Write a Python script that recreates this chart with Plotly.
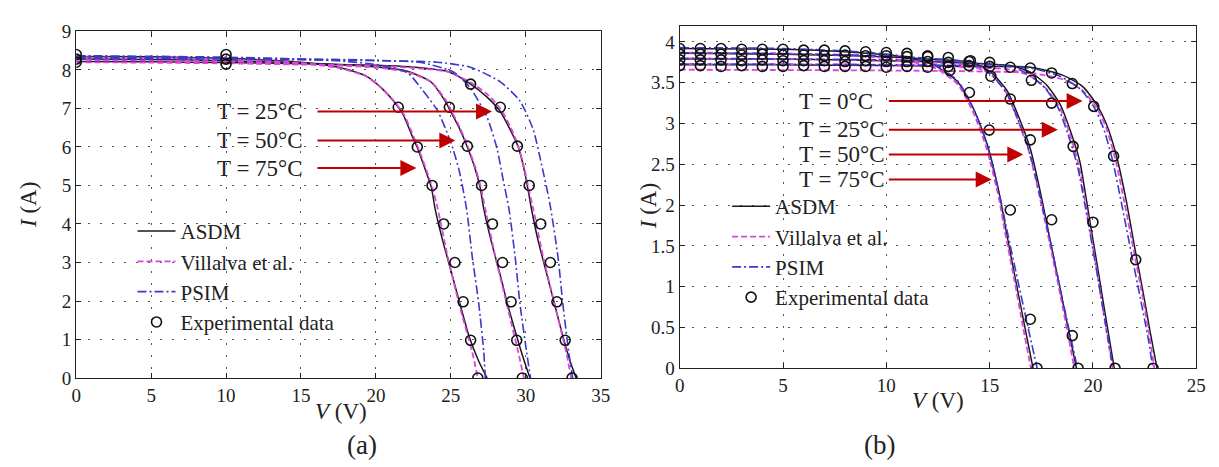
import plotly.graph_objects as go

FONT = "Liberation Serif"

# ---------------- panel (a) data: V (V), I (A) ----------------
a_asdm_25_v = [0, 5, 10, 15, 20, 22.2, 24.8, 26.3, 27.4, 28.3, 28.96, 29.5, 29.9, 30.15, 30.4, 30.83, 31.38, 31.93, 32.48, 32.95, 33.36]
a_asdm_25_i = [8.22, 8.21, 8.19, 8.16, 8.12, 8.08, 7.96, 7.64, 7.3, 6.92, 6.45, 6.0, 5.4, 4.9, 4.35, 3.56, 2.73, 1.91, 1.08, 0.45, 0]
a_asdm_50_v = [0, 5, 10, 15, 18, 20, 22.15, 23.7, 24.57, 24.95, 25.55, 26.1, 26.6, 26.95, 27.2, 27.69, 28.26, 28.79, 29.4, 29.85, 30.28]
a_asdm_50_i = [8.28, 8.27, 8.24, 8.18, 8.13, 8.08, 7.96, 7.68, 7.22, 6.95, 6.5, 6.0, 5.46, 4.95, 4.39, 3.56, 2.73, 1.91, 1.08, 0.5, 0]
a_asdm_75_v = [0, 5, 10, 15, 17.5, 19.3, 20.4, 21.2, 21.8, 22.4, 22.8, 23.25, 23.7, 23.95, 24.46, 25.05, 25.62, 26.22, 26.85, 27.42]
a_asdm_75_i = [8.35, 8.34, 8.3, 8.2, 8.07, 7.85, 7.52, 7.18, 6.85, 6.3, 5.95, 5.46, 4.95, 4.39, 3.56, 2.73, 1.91, 1.08, 0.45, 0]

a_vill_25_v = [0, 10, 20, 22.2, 24.8, 26.3, 27.4, 28.3, 29.0, 29.5, 29.9, 30.2, 30.5, 31.16, 31.93, 32.7, 33.03]
a_vill_25_i = [8.2, 8.17, 8.1, 8.06, 7.95, 7.68, 7.38, 7.0, 6.5, 6.02, 5.45, 4.9, 4.39, 3.15, 1.91, 0.67, 0]
a_vill_50_v = [0, 10, 15, 20, 22.15, 23.7, 24.6, 25.0, 25.6, 26.15, 26.65, 27.0, 27.3, 27.97, 28.74, 29.5, 29.88]
a_vill_50_i = [8.26, 8.22, 8.16, 8.06, 7.94, 7.68, 7.25, 6.97, 6.5, 6.0, 5.45, 4.95, 4.39, 3.15, 1.91, 0.67, 0]
a_vill_75_v = [0, 10, 15, 17.5, 19.3, 20.4, 21.3, 21.9, 22.5, 22.9, 23.35, 23.8, 24.13, 24.79, 25.56, 26.43, 26.8]
a_vill_75_i = [8.33, 8.28, 8.18, 8.05, 7.84, 7.52, 7.15, 6.82, 6.28, 5.9, 5.42, 4.9, 4.39, 3.15, 1.91, 0.67, 0]

a_psim_25_v = [0, 10, 20, 24.1, 26.3, 28.3, 29.6, 30.5, 31.05, 31.6, 32.15, 32.48, 32.87, 33.13]
a_psim_25_i = [8.3, 8.28, 8.24, 8.2, 8.07, 7.69, 7.2, 6.45, 5.55, 4.55, 3.15, 1.91, 0.67, 0]
a_psim_50_v = [0, 10, 20, 23.0, 25.2, 26.3, 27.4, 28.08, 28.5, 28.88, 29.29, 29.62, 30.06, 30.32]
a_psim_50_i = [8.33, 8.31, 8.25, 8.19, 7.94, 7.53, 6.79, 5.96, 5.13, 4.39, 3.15, 1.91, 0.67, 0]
a_psim_75_v = [0, 10, 15, 18, 20, 21.2, 22.15, 23.0, 24.1, 25.0, 25.56, 26.05, 26.43, 26.87, 27.2, 27.3]
a_psim_75_i = [8.37, 8.33, 8.28, 8.22, 8.14, 8.05, 7.92, 7.53, 6.95, 6.12, 5.38, 4.39, 3.15, 1.91, 0.67, 0]

a_exp_25_v = [0, 10, 26.32, 28.3, 29.44, 30.23, 31.0, 31.64, 32.08, 32.63, 33.09]
a_exp_25_i = [8.2, 8.15, 7.63, 7.03, 6.02, 5.0, 4.0, 3.0, 1.98, 0.98, 0]
a_exp_50_v = [0, 10, 24.9, 26.1, 27.05, 27.78, 28.45, 29.02, 29.4, 29.77]
a_exp_50_i = [8.28, 8.28, 7.03, 6.02, 5.0, 4.0, 3.0, 1.98, 0.98, 0]
a_exp_75_v = [0, 10, 21.49, 22.76, 23.75, 24.52, 25.27, 25.82, 26.32, 26.8]
a_exp_75_i = [8.4, 8.4, 7.03, 6.0, 5.0, 4.0, 3.0, 1.98, 0.98, 0]

# ---------------- panel (b) data ----------------
b_asdm_0_v = [0, 5, 10, 14, 16.97, 18.56, 19.52, 20.16, 20.64, 21.12, 21.6, 22.02, 22.45, 22.78, 23.1]
b_asdm_0_i = [3.72, 3.72, 3.71, 3.70, 3.69, 3.59, 3.45, 3.24, 3.0, 2.62, 2.07, 1.48, 0.9, 0.43, 0]
b_asdm_25_v = [0, 5, 10, 13, 16.0, 16.97, 17.77, 18.4, 18.88, 19.36, 19.68, 19.86, 20.19, 20.57, 21.03]
b_asdm_25_i = [3.79, 3.79, 3.77, 3.75, 3.71, 3.63, 3.47, 3.24, 2.93, 2.54, 2.07, 1.79, 1.29, 0.7, 0]
b_asdm_50_v = [0, 5, 10, 12, 14.1, 15.06, 15.85, 16.41, 16.97, 17.53, 18.0, 18.47, 18.85, 19.2]
b_asdm_50_i = [3.86, 3.85, 3.82, 3.79, 3.75, 3.63, 3.4, 3.08, 2.69, 2.07, 1.48, 0.9, 0.43, 0]
b_asdm_75_v = [0, 5, 8, 10.76, 12.35, 13.46, 14.26, 14.9, 15.5, 15.8, 16.25, 16.7, 17.1]
b_asdm_75_i = [3.92, 3.91, 3.88, 3.82, 3.71, 3.51, 3.16, 2.73, 2.1, 1.68, 1.09, 0.51, 0]

b_vill_0_v = [0, 10, 14, 16.97, 18.56, 19.52, 20.16, 20.64, 21.1, 21.55, 21.97, 22.4, 22.72, 22.97]
b_vill_0_i = [3.66, 3.65, 3.64, 3.62, 3.54, 3.4, 3.2, 2.95, 2.55, 2.0, 1.45, 0.88, 0.42, 0]
b_vill_25_v = [0, 10, 13, 16, 16.97, 17.77, 18.4, 18.85, 19.3, 19.62, 20.13, 20.5, 20.95]
b_vill_25_i = [3.73, 3.72, 3.7, 3.66, 3.58, 3.42, 3.19, 2.9, 2.5, 2.05, 1.29, 0.7, 0]
b_vill_50_v = [0, 10, 12, 14.1, 15.06, 15.8, 16.35, 16.9, 17.45, 17.95, 18.42, 18.78, 19.1]
b_vill_50_i = [3.8, 3.77, 3.75, 3.71, 3.6, 3.38, 3.05, 2.66, 2.07, 1.48, 0.9, 0.43, 0]
b_vill_75_v = [0, 5, 8, 10.76, 12.35, 13.46, 14.2, 14.85, 15.45, 15.75, 16.2, 16.62, 17.0]
b_vill_75_i = [3.87, 3.86, 3.84, 3.78, 3.68, 3.48, 3.14, 2.7, 2.08, 1.66, 1.08, 0.5, 0]

b_psim_0_v = [0, 10, 14, 16.97, 18.4, 19.4, 20.05, 20.5, 20.95, 21.4, 21.85, 22.3, 22.65, 22.9]
b_psim_0_i = [3.73, 3.72, 3.71, 3.68, 3.58, 3.42, 3.2, 2.95, 2.55, 2.0, 1.42, 0.85, 0.4, 0]
b_psim_25_v = [0, 10, 13, 16, 16.9, 17.7, 18.3, 18.78, 19.25, 19.6, 20.12, 20.52, 20.98]
b_psim_25_i = [3.8, 3.78, 3.76, 3.7, 3.6, 3.43, 3.2, 2.88, 2.48, 2.02, 1.28, 0.68, 0]
b_psim_50_v = [0, 10, 12, 14.1, 15.0, 15.8, 16.36, 16.92, 17.48, 18.0, 18.48, 18.88, 19.25]
b_psim_50_i = [3.87, 3.83, 3.8, 3.75, 3.62, 3.38, 3.06, 2.66, 2.07, 1.48, 0.9, 0.43, 0]
b_psim_75_v = [0, 5, 8, 10.76, 12.35, 13.46, 14.26, 14.9, 15.5, 15.85, 16.35, 16.85, 17.3]
b_psim_75_i = [3.93, 3.92, 3.89, 3.83, 3.72, 3.52, 3.16, 2.72, 2.1, 1.68, 1.09, 0.51, 0]

b_exp_0_v = [0, 1, 2, 3, 4, 5, 6, 7, 8, 9, 10, 11, 12, 13, 14, 15, 16.97, 18, 19, 20.04, 21, 22.07, 22.91]
b_exp_0_i = [3.71, 3.71, 3.7, 3.71, 3.7, 3.7, 3.71, 3.7, 3.7, 3.7, 3.69, 3.7, 3.69, 3.7, 3.71, 3.7, 3.68, 3.62, 3.49, 3.21, 2.6, 1.33, 0]
b_exp_25_v = [0, 1, 2, 3, 4, 5, 6, 7, 8, 9, 10, 11, 12, 13, 14, 15, 16, 17.02, 18, 19.04, 20, 21.07]
b_exp_25_i = [3.78, 3.78, 3.78, 3.77, 3.78, 3.77, 3.77, 3.77, 3.76, 3.77, 3.76, 3.76, 3.76, 3.75, 3.76, 3.75, 3.69, 3.53, 3.25, 2.72, 1.79, 0]
b_exp_50_v = [0, 1, 2, 3, 4, 5, 6, 7, 8, 9, 10, 11, 12, 13, 14.07, 15.06, 16, 16.97, 18, 19, 19.28]
b_exp_50_i = [3.85, 3.85, 3.85, 3.84, 3.85, 3.84, 3.84, 3.83, 3.84, 3.83, 3.83, 3.82, 3.82, 3.81, 3.77, 3.58, 3.3, 2.8, 1.82, 0.4, 0]
b_exp_75_v = [0, 1, 2, 3, 4, 5, 6, 7, 8, 9, 10, 11, 12, 13.07, 14.02, 14.98, 16, 16.97, 17.29]
b_exp_75_i = [3.92, 3.92, 3.92, 3.91, 3.91, 3.91, 3.9, 3.9, 3.89, 3.88, 3.87, 3.86, 3.83, 3.65, 3.38, 2.92, 1.94, 0.6, 0]

# annotation labels / arrows
a_labels = ["T = 25°C", "T = 50°C", "T = 75°C"]
a_arrow_y = [6.92, 6.17, 5.45]
a_arrow_end = [27.75, 25.3, 22.7]
a_arrow_start = 16.0
b_labels = ["T = 0°C", "T = 25°C", "T = 50°C", "T = 75°C"]
b_arrow_y = [3.275, 2.924, 2.62, 2.315]
b_arrow_end = [19.5, 18.3, 16.63, 15.1]
b_arrow_start = 10.05

names = {"asdm": "ASDM", "vill": "Villalva et al.", "psim": "PSIM", "exp": "Experimental data"}

STYLE = {
    "asdm": dict(mode="lines", line=dict(color="#1a1a1a", width=1.5, shape="spline", smoothing=0.6)),
    "vill": dict(mode="lines", line=dict(color="#dd44dd", width=1.8, dash="6px,3px", shape="spline", smoothing=0.6)),
    "psim": dict(mode="lines", line=dict(color="#3a3ac8", width=1.6, dash="9px,3px,2px,3px", shape="spline", smoothing=0.6)),
    "exp": dict(mode="markers", marker=dict(symbol="circle-open", size=10, color="#111", line=dict(width=1.6, color="#111"))),
}

series_a = {
    "asdm": [(a_asdm_25_v, a_asdm_25_i), (a_asdm_50_v, a_asdm_50_i), (a_asdm_75_v, a_asdm_75_i)],
    "vill": [(a_vill_25_v, a_vill_25_i), (a_vill_50_v, a_vill_50_i), (a_vill_75_v, a_vill_75_i)],
    "psim": [(a_psim_25_v, a_psim_25_i), (a_psim_50_v, a_psim_50_i), (a_psim_75_v, a_psim_75_i)],
    "exp": [(a_exp_25_v, a_exp_25_i), (a_exp_50_v, a_exp_50_i), (a_exp_75_v, a_exp_75_i)],
}
series_b = {
    "asdm": [(b_asdm_0_v, b_asdm_0_i), (b_asdm_25_v, b_asdm_25_i), (b_asdm_50_v, b_asdm_50_i), (b_asdm_75_v, b_asdm_75_i)],
    "vill": [(b_vill_0_v, b_vill_0_i), (b_vill_25_v, b_vill_25_i), (b_vill_50_v, b_vill_50_i), (b_vill_75_v, b_vill_75_i)],
    "psim": [(b_psim_0_v, b_psim_0_i), (b_psim_25_v, b_psim_25_i), (b_psim_50_v, b_psim_50_i), (b_psim_75_v, b_psim_75_i)],
    "exp": [(b_exp_0_v, b_exp_0_i), (b_exp_25_v, b_exp_25_i), (b_exp_50_v, b_exp_50_i), (b_exp_75_v, b_exp_75_i)],
}

fig = go.Figure()
for series, xa, ya, leg in [(series_a, "x", "y", "legend"), (series_b, "x2", "y2", "legend2")]:
    for key in ["asdm", "vill", "psim", "exp"]:
        for k, (v, i) in enumerate(series[key]):
            fig.add_trace(go.Scatter(x=v, y=i, xaxis=xa, yaxis=ya, name=names[key],
                                     legend=leg, showlegend=(k == 0), **STYLE[key]))

W, H = 1219, 467
def px_x(p):
    return p / W
def px_y(p):
    return 1 - p / H

axis_common = dict(showline=True, linecolor="#222", linewidth=1.3, mirror="ticks",
                   ticks="inside", ticklen=5, tickcolor="#222", showgrid=True,
                   gridcolor="#555", gridwidth=1, griddash="2px,10px", zeroline=False,
                   tickfont=dict(family=FONT, size=19, color="#222"))

fig.update_layout(
    width=W, height=H, margin=dict(l=0, r=0, t=0, b=0),
    paper_bgcolor="white", plot_bgcolor="white",
    xaxis=dict(domain=[px_x(64), px_x(595)], range=[0, 35], dtick=5, anchor="y", **axis_common),
    yaxis=dict(domain=[px_y(377), px_y(14)], range=[0, 9], dtick=1, anchor="x", **axis_common),
    xaxis2=dict(domain=[px_x(675), px_x(1198)], range=[0, 25], dtick=5, anchor="y2", **axis_common),
    yaxis2=dict(domain=[px_y(366.7), px_y(8)], range=[0, 4.2], dtick=0.5, anchor="x2", **axis_common),
    legend=dict(x=px_x(121), y=px_y(202), xanchor="left", yanchor="top", bgcolor="rgba(0,0,0,0)",
                font=dict(family=FONT, size=21, color="#222"), tracegroupgap=0, itemwidth=38),
    legend2=dict(x=px_x(723), y=px_y(176), xanchor="left", yanchor="top", bgcolor="rgba(0,0,0,0)",
                 font=dict(family=FONT, size=21, color="#222"), tracegroupgap=0, itemwidth=38),
)

anns = []
tf = dict(family=FONT, size=23, color="#222")
for lab, y, xe in zip(a_labels, a_arrow_y, a_arrow_end):
    anns.append(dict(x=15.25, y=y, xref="x", yref="y", text=lab, showarrow=False, xanchor="right", font=tf))
    anns.append(dict(x=xe, y=y, xref="x", yref="y", ax=a_arrow_start, ay=y, axref="x", ayref="y",
                     text="", showarrow=True, arrowhead=2, arrowsize=1.6, arrowwidth=2, arrowcolor="#c00000"))
for lab, y, xe in zip(b_labels, b_arrow_y, b_arrow_end):
    anns.append(dict(x=5.7, y=y, xref="x2", yref="y2", text=lab, showarrow=False, xanchor="left", font=tf))
    anns.append(dict(x=xe, y=y, xref="x2", yref="y2", ax=b_arrow_start, ay=y, axref="x2", ayref="y2",
                     text="", showarrow=True, arrowhead=2, arrowsize=1.6, arrowwidth=2, arrowcolor="#c00000"))

for txt, x, y, rot, size in [("<i>I</i> (A)", 15, 196, -90, 23), ("<i>V</i> (V)", 332, 412, 0, 23),
                             ("<i>I</i> (A)", 643, 197, -90, 23), ("<i>V</i> (V)", 937, 400, 0, 23),
                             ("(a)", 353, 447, 0, 27), ("(b)", 877, 447, 0, 27)]:
    anns.append(dict(x=px_x(x), y=px_y(y), xref="paper", yref="paper", text=txt, showarrow=False,
                     textangle=rot, xanchor="center", yanchor="middle",
                     font=dict(family=FONT, size=size, color="#222")))

fig.update_layout(annotations=anns)
fig.write_html("out.html")
